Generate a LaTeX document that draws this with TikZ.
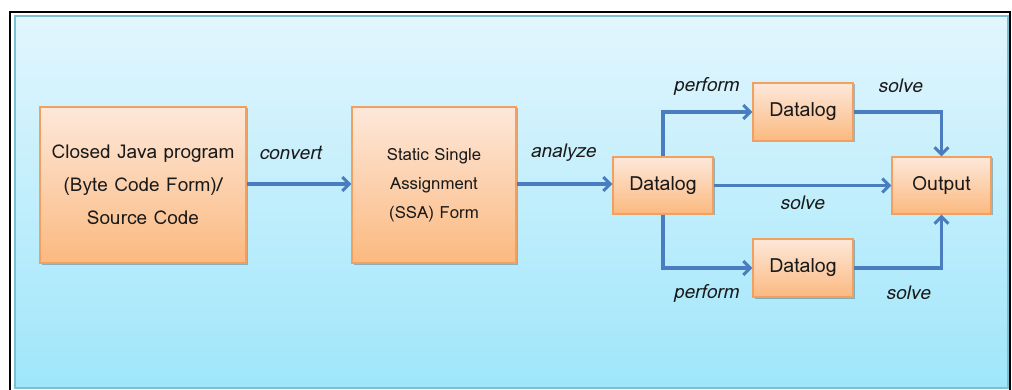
\documentclass[tikz,border=0pt]{standalone}
\usepackage{fontspec}
\setmainfont{Loma}
\usetikzlibrary{arrows.meta,shadows}
\definecolor{panelTop}{HTML}{E2F6FD}
\definecolor{panelBot}{HTML}{9FE6FB}
\definecolor{panelEdge}{HTML}{7CBFD2}
\definecolor{boxTop}{HTML}{FDE8DA}
\definecolor{boxBot}{HTML}{FBB97F}
\definecolor{boxEdge}{HTML}{F2A060}
\definecolor{flow}{HTML}{4A7CC0}
\definecolor{ink}{HTML}{1A1A1A}
\tikzset{
  stage/.style={draw=boxEdge, line width=1.2pt, top color=boxTop, bottom color=boxBot,
    text=ink, align=center, inner sep=0pt,
    drop shadow={shadow xshift=1.5pt, shadow yshift=-1.5pt, opacity=0.25, fill=black}},
  flowline/.style={draw=flow, line width=3.2pt,
    -{Straight Barb[length=7pt,width=14pt,line width=3pt]}},
  verb/.style={text=ink, font=\fontsize{19}{21}\selectfont\itshape, inner sep=0pt},
  boxtext/.style={font=\fontsize{19.5}{22}\selectfont}
}
\begin{document}
\begin{tikzpicture}[x=1pt,y=-1pt]
\useasboundingbox (0,0) rectangle (1012,390);
\fill[white] (0,0) rectangle (1012,390);
% framed backdrop
\shade[top color=panelTop, bottom color=panelBot] (15,16) rectangle (1008,388);
\draw[panelEdge, line width=1.5pt] (15,16) rectangle (1008,388);
\draw[black, line width=1.6pt] (10,395) -- (10,12) -- (1010,12) -- (1010,395);

% stages
\node[stage, minimum width=206pt, minimum height=156pt, font=\fontsize{19}{33}\selectfont]
  (src) at (143,185) {Closed Java program\\(Byte Code Form)/\\Source Code};
\node[stage, minimum width=164pt, minimum height=156pt, font=\fontsize{16.8}{29}\selectfont]
  (ssa) at (434,185) {Static Single\\Assignment\\(SSA) Form};
\node[stage, boxtext, minimum width=100pt, minimum height=57pt] (dl) at (663,185.5) {Datalog};
\node[stage, boxtext, minimum width=100pt, minimum height=58pt] (dlt) at (803,112) {Datalog};
\node[stage, boxtext, minimum width=100pt, minimum height=58pt] (dlb) at (803,268) {Datalog};
\node[stage, boxtext, minimum width=99pt, minimum height=57pt] (out) at (941.5,185.5) {Output};

% connectors
\draw[flowline] (src.east |- 0,184) -- (ssa.west |- 0,184);
\draw[flowline] (ssa.east |- 0,184) -- (dl.west |- 0,184);
\draw[flowline] (dl) -- (out);
\draw[flowline] (dl.north) |- (dlt.west);
\draw[flowline] (dl.south) |- (dlb.west);
\draw[flowline] (dlt.east) -| (out.north);
\draw[flowline] (dlb.east) -| (out.south);

% labels
\node[verb] (lconv) at (290,153) {convert};
\node[verb] (lanal) at (563,153) {analyze};
\node[verb] (lpt) at (706,86) {perform};
\node[verb] (lpb) at (706,293) {perform};
\node[verb] (lst) at (900,86) {solve};
\node[verb] (lsm) at (802,203) {solve};
\node[verb] (lsb) at (908,293) {solve};
\end{tikzpicture}
\end{document}
